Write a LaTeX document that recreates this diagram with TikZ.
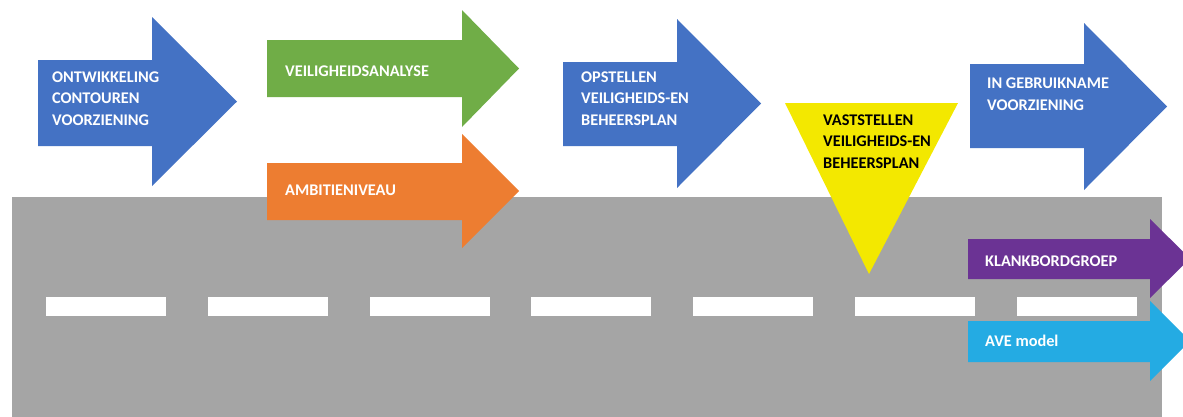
\documentclass[tikz,border=0pt]{standalone}
\usepackage{fontspec}
\setmainfont{Carlito}
\definecolor{cblue}{HTML}{4472C4}
\definecolor{cgreen}{HTML}{70AD47}
\definecolor{corange}{HTML}{ED7D31}
\definecolor{cyellow}{HTML}{F3E800}
\definecolor{cpurple}{HTML}{6B3394}
\definecolor{ccyan}{HTML}{24ABE3}
\definecolor{cgray}{HTML}{A5A5A5}
\begin{document}
\begin{tikzpicture}[x=1pt,y=-1pt,
  lbl/.style={anchor=base west,inner sep=0pt,align=left,text=white,
    font=\fontsize{16.3}{21.5}\selectfont\bfseries},
  darklbl/.style={lbl,text=black},
  shapefill/.style={fill=#1,draw=none}]
\useasboundingbox (0,0) rectangle (1183,416);
\clip (0,0) rectangle (1183,416);
\fill[white] (0,0) rectangle (1183,416);
% road
\fill[cgray] (12,197) rectangle (1162,420);
\foreach \k in {0,...,6}{
  \fill[white] ({46+\k*161.8},297) rectangle ({166+\k*161.8},316);
}
% arrows
\path[shapefill=cblue] (38,60) -- (152,60) -- (152,17) -- (237,101.5) -- (152,186) -- (152,146) -- (38,146) -- cycle;
\path[shapefill=cgreen] (267,40) -- (462,40) -- (462,10) -- (519,68.5) -- (462,127) -- (462,97) -- (267,97) -- cycle;
\path[shapefill=corange] (267,163) -- (462,163) -- (462,134) -- (519,191) -- (462,248) -- (462,220) -- (267,220) -- cycle;
\path[shapefill=cblue] (563,62) -- (677,62) -- (677,19) -- (761,103.5) -- (677,188) -- (677,146) -- (563,146) -- cycle;
\path[shapefill=cblue] (970,64) -- (1084,64) -- (1084,23) -- (1167,106.5) -- (1084,190) -- (1084,148) -- (970,148) -- cycle;
\path[shapefill=cyellow] (785,103) -- (958,103) -- (869,274) -- cycle;
\path[shapefill=cpurple] (968,239) -- (1150,239) -- (1150,219) -- (1190,258.5) -- (1150,298) -- (1150,279) -- (968,279) -- cycle;
\path[shapefill=ccyan] (968,321) -- (1150,321) -- (1150,301) -- (1190,341) -- (1150,381) -- (1150,362) -- (968,362) -- cycle;
% labels (base anchor = baseline of last line)
\node[lbl] (t1) at (52,125) {ONTWIKKELING\\CONTOUREN\\VOORZIENING};
\node[lbl] (t2) at (285,76) {VEILIGHEIDSANALYSE};
\node[lbl] (t3) at (285,195) {AMBITIENIVEAU};
\node[lbl] (t4) at (581,125) {OPSTELLEN\\VEILIGHEIDS-EN\\BEHEERSPLAN};
\node[darklbl] (t5) at (823,168) {VASTSTELLEN\\VEILIGHEIDS-EN\\BEHEERSPLAN};
\node[lbl] (t6) at (987,110) {IN GEBRUIKNAME\\VOORZIENING};
\node[lbl] (t7) at (985,266) {KLANKBORDGROEP};
\node[lbl] (t8) at (985,346) {AVE model};
\end{tikzpicture}
\end{document}
